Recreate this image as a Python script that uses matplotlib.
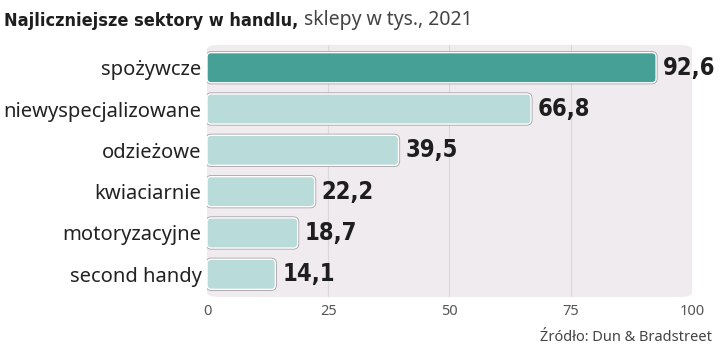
import matplotlib
matplotlib.use("Agg")
import matplotlib.pyplot as plt
from matplotlib.patches import FancyBboxPatch
from matplotlib import font_manager

categories = ["spożywcze", "niewyspecjalizowane", "odzieżowe", "kwiaciarnie",
              "motoryzacyjne", "second handy"]
values = [92.6, 66.8, 39.5, 22.2, 18.7, 14.1]
value_labels = ["92,6", "66,8", "39,5", "22,2", "18,7", "14,1"]
ticks = [0, 25, 50, 75, 100]
title_bold = "Najliczniejsze sektory w handlu,"
title_rest = " sklepy w tys., 2021"
source = "Źródło: Dun & Bradstreet"


def condensed_bold():
    # look for any installed bold condensed / narrow face
    for f in font_manager.fontManager.ttflist:
        s = str(f.stretch).lower()
        if ("narrow" in f.name.lower() or "condensed" in f.name.lower()
                or s in ("condensed", "semi-condensed", "extra-condensed")
                or (s.isdigit() and int(s) < 500)):
            if f.weight in ("bold", 700) or str(f.weight) == "700":
                return font_manager.FontProperties(fname=f.fname), True
    return font_manager.FontProperties(family="Liberation Sans", weight="bold"), False


cond, found = condensed_bold()
label_size = 17 if found else 16

dark = "#46a095"
light = "#b9dcdb"
panel = "#efebef"

fig = plt.figure(figsize=(7.2, 3.53), dpi=100)
ax = fig.add_axes([0.2875, 0.1586, 0.6736, 0.714])
ax.set_facecolor("none")
ax.set_xlim(0, 100)
ax.set_ylim(5.55, -0.55)

# rounded panel behind the bars
bg = FancyBboxPatch((0, 0), 1, 1, boxstyle="round,pad=0,rounding_size=0.03",
                    mutation_aspect=0.714 * 3.53 / (0.6736 * 7.2),
                    transform=ax.transAxes, facecolor=panel, edgecolor="none", zorder=0)
ax.add_patch(bg)

for t in ticks[1:-1]:
    ax.axvline(t, color="#dcd7dc", lw=0.8, zorder=1)

bars = ax.barh(range(len(values)), values, height=0.73)
aspect = (1 / 41.4) / (1 / 4.85)
for i, b in enumerate(bars):
    x, y = b.get_x(), b.get_y()
    w, h = b.get_width(), b.get_height()
    b.set_visible(False)
    color = dark if i == 0 else light
    shadow = FancyBboxPatch((x, y), w, h, boxstyle="round,pad=0,rounding_size=0.9",
                            mutation_aspect=aspect, facecolor="none",
                            edgecolor="#a8a2a8", lw=2.2, zorder=2)
    ax.add_patch(shadow)
    patch = FancyBboxPatch((x, y), w, h, boxstyle="round,pad=0,rounding_size=0.9",
                           mutation_aspect=aspect, facecolor=color,
                           edgecolor="white", lw=1.0, zorder=3)
    ax.add_patch(patch)
    ax.annotate(value_labels[i], xy=(w, i), xytext=(5, 0), textcoords="offset points",
                va="center", ha="left", fontproperties=cond, fontsize=label_size,
                color="#1e1e1e")

ax.set_yticks(range(len(categories)))
ax.set_yticklabels(categories, fontsize=14.5, family="Noto Sans", color="#222222")
ax.set_xticks(ticks)
ax.set_xticklabels([str(t) for t in ticks], fontsize=10.5, family="Noto Sans", color="#555555")
ax.tick_params(axis="both", length=0)
ax.tick_params(axis="y", pad=4)
ax.tick_params(axis="x", pad=5)
for s in ax.spines.values():
    s.set_visible(False)

t1 = fig.text(0.006, 0.925, title_bold, fontproperties=cond,
              fontsize=13 if found else 13.5, color="#1e1e1e", va="baseline")
ax.annotate(title_rest, xy=(1, 0), xycoords=t1, va="bottom", ha="left",
            fontsize=14, family="Noto Sans", color="#444444", annotation_clip=False)

fig.text(0.989, 0.035, source, fontsize=10.5, family="Noto Sans", color="#444444",
         ha="right", va="baseline")

fig.savefig("out.png", dpi=100)
